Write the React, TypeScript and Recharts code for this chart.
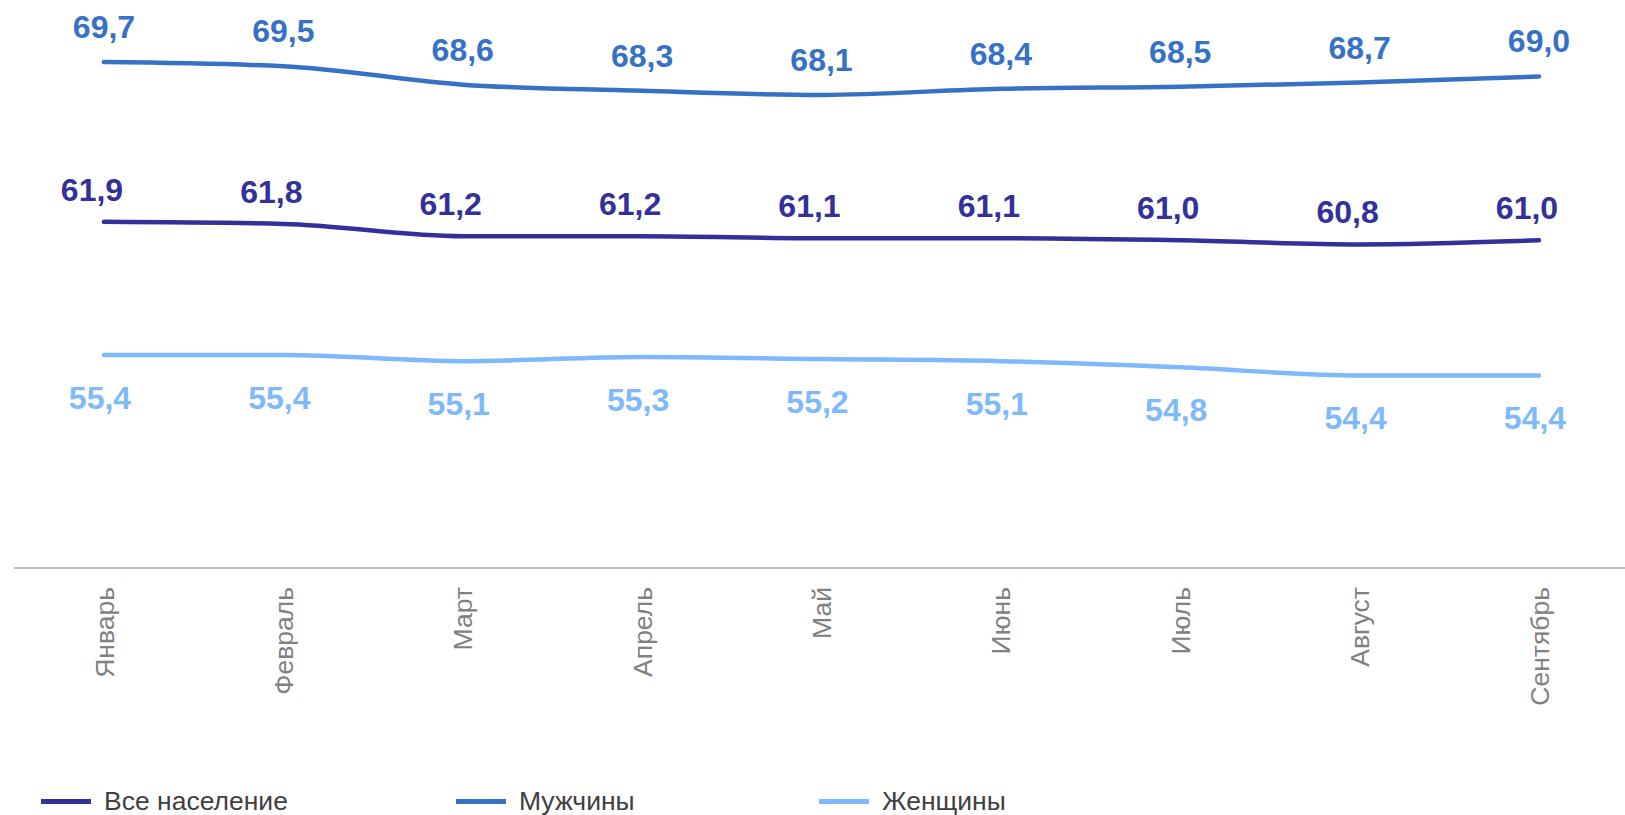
import React from 'react';
import { LineChart, Line, XAxis, YAxis, LabelList } from 'recharts';

const months = ['Январь', 'Февраль', 'Март', 'Апрель', 'Май', 'Июнь', 'Июль', 'Август', 'Сентябрь'];
const allPopulation = [61.9, 61.8, 61.2, 61.2, 61.1, 61.1, 61.0, 60.8, 61.0];
const men = [69.7, 69.5, 68.6, 68.3, 68.1, 68.4, 68.5, 68.7, 69.0];
const women = [55.4, 55.4, 55.1, 55.3, 55.2, 55.1, 54.8, 54.4, 54.4];

const seriesNames = ['Все население', 'Мужчины', 'Женщины'];
const seriesColors = ['#33309A', '#3572C6', '#7DB9FB'];

const data = months.map((m, i) => ({
  month: m,
  all: allPopulation[i],
  men: men[i],
  women: women[i],
}));

const FONT = '"Liberation Sans", Arial, sans-serif';

const fmt = (v: number) => v.toFixed(1).replace('.', ',');

const makeLabel = (color: string, dy: number, dx = 0) => (props: any) => {
  const { x, y, value } = props;
  return (
    <text
      x={x + dx}
      y={y + dy}
      textAnchor="middle"
      fill={color}
      fontFamily={FONT}
      fontWeight="bold"
      fontSize={32}
    >
      {fmt(value)}
    </text>
  );
};

const MonthTick = (props: any) => {
  const { x, y, payload } = props;
  return (
    <text
      transform={`translate(${x + 9.5},${y + 19}) rotate(-90)`}
      textAnchor="end"
      fill="#808080"
      fontFamily={FONT}
      fontSize={26.5}
    >
      {payload.value}
    </text>
  );
};

const legendLeft = [41, 456, 819];

const ChartLegend = () => (
  <div style={{ position: 'absolute', left: 0, top: 786, width: 1625, height: 30 }}>
    {seriesNames.map((name, i) => (
      <div
        key={name}
        style={{
          position: 'absolute',
          left: legendLeft[i],
          top: 0,
          display: 'flex',
          alignItems: 'center',
          height: 30,
        }}
      >
        <div style={{ width: 50, height: 5, background: seriesColors[i], marginRight: 13 }} />
        <span style={{ fontFamily: FONT, fontSize: 26.5, color: '#404040', whiteSpace: 'nowrap' }}>{name}</span>
      </div>
    ))}
  </div>
);

const App: React.FC = () => {
  return (
    <div style={{ position: 'absolute', left: 0, top: 0, width: 1625, height: 815, overflow: 'hidden', background: '#fff' }}>
      <LineChart width={1629} height={815} data={data} margin={{ top: 15, right: 0, left: 14, bottom: 0 }}>
        <XAxis
          dataKey="month"
          height={247}
          tickLine={false}
          tickSize={0}
          tickMargin={0}
          padding={{ left: 90, right: 90 }}
          axisLine={{ stroke: '#BFBFBF', strokeWidth: 2 }}
          tick={<MonthTick />}
          interval={0}
        />
        <YAxis hide domain={[45, 72]} />
        <Line
          type="monotone"
          dataKey="men"
          name={seriesNames[1]}
          stroke={seriesColors[1]}
          strokeWidth={4.5}
          strokeLinecap="round"
          dot={false}
          isAnimationActive={false}
        >
          <LabelList dataKey="men" content={makeLabel(seriesColors[1], -24)} />
        </Line>
        <Line
          type="monotone"
          dataKey="all"
          name={seriesNames[0]}
          stroke={seriesColors[0]}
          strokeWidth={4.5}
          strokeLinecap="round"
          dot={false}
          isAnimationActive={false}
        >
          <LabelList dataKey="all" content={makeLabel(seriesColors[0], -21, -12)} />
        </Line>
        <Line
          type="monotone"
          dataKey="women"
          name={seriesNames[2]}
          stroke={seriesColors[2]}
          strokeWidth={4.5}
          strokeLinecap="round"
          dot={false}
          isAnimationActive={false}
        >
          <LabelList dataKey="women" content={makeLabel(seriesColors[2], 54, -4)} />
        </Line>
      </LineChart>
      <ChartLegend />
    </div>
  );
};

export default App;
